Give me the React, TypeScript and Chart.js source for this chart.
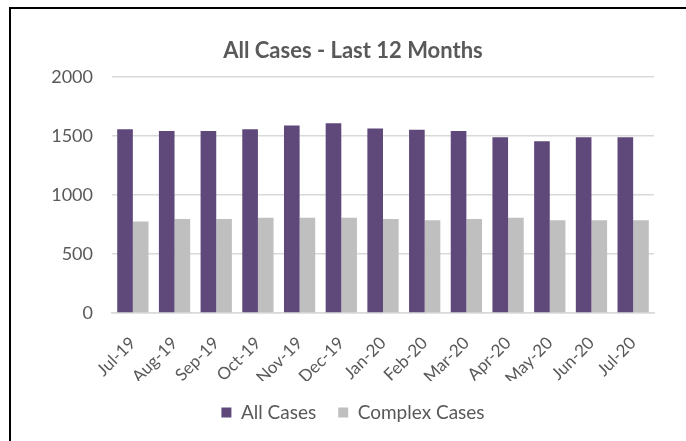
import React, { useEffect, useRef } from "react";
import { Chart, registerables } from "chart.js";

Chart.register(...registerables);

const months = ["Jul-19", "Aug-19", "Sep-19", "Oct-19", "Nov-19", "Dec-19", "Jan-20", "Feb-20", "Mar-20", "Apr-20", "May-20", "Jun-20", "Jul-20"];
const allCases = [1558, 1543, 1543, 1558, 1589, 1609, 1563, 1554, 1543, 1489, 1455, 1489, 1489];
const complexCases = [775, 796, 796, 807, 807, 807, 796, 785, 796, 807, 785, 785, 785];
const yTicks = [0, 500, 1000, 1500, 2000];

const FONT = "Lato, 'Open Sans', sans-serif";
const TEXT = "#595959";

export default function App() {
  const ref = useRef<HTMLCanvasElement | null>(null);
  useEffect(() => {
    if (!ref.current) return;
    const chart = new Chart(ref.current, {
      type: "bar",
      data: {
        labels: months,
        datasets: [
          { label: "All Cases", data: allCases, backgroundColor: "#5F497A", borderWidth: 0 },
          { label: "Complex Cases", data: complexCases, backgroundColor: "#BFBFBF", borderWidth: 0 },
        ],
      },
      options: {
        responsive: false,
        animation: false,
        layout: { padding: { left: 52, right: 32, top: 0, bottom: 9 } },
        datasets: { bar: { categoryPercentage: 0.75, barPercentage: 1 } },
        plugins: {
          title: {
            display: true,
            text: "All Cases - Last 12 Months",
            color: TEXT,
            font: { family: FONT, size: 22, weight: "bold" },
            padding: { top: 38, bottom: 12.6 },
          },
          legend: {
            position: "bottom",
            labels: {
              color: TEXT,
              font: { family: FONT, size: 19 },
              boxWidth: 10,
              boxHeight: 10,
              padding: 22,
            },
          },
          tooltip: { enabled: false },
        },
        scales: {
          x: {
            grid: { display: false },
            border: { display: true, color: "#D9D9D9", width: 1.5 },
            ticks: { color: TEXT, font: { family: FONT, size: 17 }, minRotation: 45, maxRotation: 45, padding: 12 },
            afterFit: (s: any) => { s.height = 68; },
          },
          y: {
            min: 0,
            max: 2000,
            afterBuildTicks: (s: any) => { s.ticks = yTicks.map((v) => ({ value: v })); },
            grid: { color: "#D9D9D9", lineWidth: 1.5, drawTicks: false },
            border: { display: false },
            ticks: { color: TEXT, font: { family: FONT, size: 18 }, padding: 19, callback: (v: any) => String(v) },
            afterFit: (s: any) => { s.width = 60; },
          },
        },
      },
    });
    return () => chart.destroy();
  }, []);
  return (
    <div style={{ position: "absolute", left: 0, top: 0, width: 686, height: 441, background: "#fff" }}>
      <canvas ref={ref} width={686} height={441} style={{ position: "absolute", left: 0, top: 0 }} />
      <div style={{ position: "absolute", left: 9, top: 7, width: 677, height: 434, borderTop: "2px solid #000", borderLeft: "2px solid #000", boxSizing: "border-box", pointerEvents: "none" }} />
    </div>
  );
}
